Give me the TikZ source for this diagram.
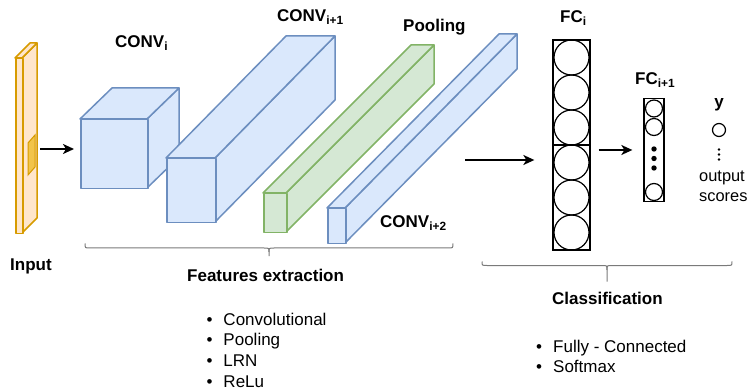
\documentclass[tikz,border=0pt]{standalone}
\usepackage{fontspec}
\setmainfont{Liberation Sans}
\usetikzlibrary{arrows.meta}
\definecolor{convfill}{HTML}{DAE8FC}
\definecolor{convline}{HTML}{6C8EBF}
\definecolor{poolfill}{HTML}{D5E8D4}
\definecolor{poolline}{HTML}{82B366}
\definecolor{infill}{HTML}{FFE6CC}
\definecolor{inline}{HTML}{D79B00}
\definecolor{inmark}{HTML}{F2C44A}
\definecolor{bracegray}{HTML}{7A7A7A}

\begin{document}
\begin{tikzpicture}[x=1pt,y=-1pt]
  \tikzstyle{face}=[line width=1.5pt,line join=round]
  \tikzstyle{label}=[font=\fontsize{17}{20}\selectfont\bfseries,inner sep=0pt,anchor=base west]
  \tikzstyle{item}=[font=\fontsize{17}{20}\selectfont,inner sep=0pt,anchor=base west]
  \tikzstyle{neuron}=[circle,draw,line width=1.2pt,inner sep=0pt]
  \tikzstyle{layer}=[draw,line width=1.3pt,inner sep=0pt]
  \tikzstyle{arrow}=[-{Stealth[length=11pt,width=10pt,inset=3pt]},line width=1.8pt]
  \tikzstyle{bracket}=[draw=bracegray,line width=1pt]
  \useasboundingbox (0,0) rectangle (747,390);

  % feature maps, back to front
  \foreach \n/\x/\y/\w/\h/\dx/\dy/\f/\d in {
      input/15/58/7/175/15/-15/infill/inline,
      conv1/80/119/67/69/32/-31/convfill/convline,
      conv2/166/158/49/64/120/-122/convfill/convline,
      pool/263/193/23/39/148/-148/poolfill/poolline,
      conv3/327/208/18/35/172/-174/convfill/convline}{
    \filldraw[face,fill=\f,draw=\d] (\x+\w,\y) -- ++(\dx,\dy) -- ++(0,\h) -- (\x+\w,\y+\h) -- cycle;
    \filldraw[face,fill=\f,draw=\d] (\x,\y) -- ++(\dx,\dy) -- ++(\w,0) -- (\x+\w,\y) -- cycle;
    \node[face,draw=\d,fill=\f,minimum width=\w pt,minimum height=\h pt,anchor=north west,inner sep=0pt] (\n) at (\x,\y) {};
  }
  \filldraw[line width=1pt,fill=inmark,draw=inline] (28,143) -- (28,175) -- (35,167) -- (35,135) -- cycle;

  \node[label] (lin) at (10,270) {Input};
  \node[label] (lconv1) at (115,48) {CONV\textsubscript{i}};
  \node[label] (lconv2) at (277,22) {CONV\textsubscript{i+1}};
  \node[label] (lpool) at (403,32) {Pooling};
  \node[label] (lconv3) at (380,228) {CONV\textsubscript{i+2}};

  % fully connected layers
  \node[layer,minimum width=37pt,minimum height=210pt] (fc1) at (571.5,145) {};
  \draw[line width=1.3pt] (fc1.west) -- (fc1.east);
  \foreach \k in {0,...,5}
    \node[neuron,minimum size=35pt] (fc1-\k) at (571.5,57.5+35*\k) {};
  \node[label] (lfc1) at (560,23) {FC\textsubscript{i}};

  \node[layer,minimum width=20pt,minimum height=103pt] (fc2) at (654,150) {};
  \foreach \k/\yy in {1/108.5,2/127,3/192}
    \node[neuron,minimum size=17pt] (fc2-\k) at (654,\yy) {};
  \foreach \yy in {149,158.5,168}
    \fill (654,\yy) circle (2.7pt);
  \node[label] (lfc2) at (635,85) {FC\textsubscript{i+1}};

  \node[label,anchor=base] (ly) at (719,108) {y};
  \node[neuron,minimum size=13pt] (out) at (719,130) {};
  \foreach \yy in {149.5,154.5,159.5}
    \fill (719,\yy) circle (1.4pt);
  \node[item,font=\fontsize{16.4}{20}\selectfont] (lout1) at (699,181.7) {output};
  \node[item,font=\fontsize{16.4}{20}\selectfont] (lout2) at (699,201.7) {scores};

  % arrows
  \coordinate (in-out) at (40,149);
  \coordinate (feat-out) at (465,160);
  \draw[arrow,shorten >=6pt] (in-out) -- (conv1.west |- in-out);
  \draw[arrow,shorten >=18pt] (feat-out) -- (fc1.west |- feat-out);
  \draw[arrow,shorten <=8pt,shorten >=11pt] (fc1.east |- fc2.west) -- (fc2.west);

  % brackets
  \draw[bracket] (85,243.5) .. controls (85,248) .. (90,248) -- (264,248)
    .. controls (269,248) .. (269,252) -- (269,256);
  \draw[bracket] (453,243.5) .. controls (453,248) .. (448,248) -- (274,248)
    .. controls (269,248) .. (269,252);
  \draw[bracket] (482,261.5) .. controls (482,265.5) .. (487,265.5) -- (602,265.5)
    .. controls (607,265.5) .. (607,270) -- (607,281.5);
  \draw[bracket] (732,261.5) .. controls (732,265.5) .. (727,265.5) -- (612,265.5)
    .. controls (607,265.5) .. (607,270);

  \node[label] (lfeat) at (187,281) {Features extraction};
  \node[label] (lclass) at (552,304) {Classification};

  \foreach \t/\yy [count=\k] in {Convolutional/325,Pooling/345.7,LRN/366.3,ReLu/387}
    \node[item] (feat-\k) at (206.5,\yy) {\makebox[16.8pt][l]{\textbullet}\t};
  \foreach \t/\yy [count=\k] in {Fully - Connected/352.3,Softmax/372.7}
    \node[item] (class-\k) at (536,\yy) {\makebox[17pt][l]{\textbullet}\t};
\end{tikzpicture}
\end{document}
